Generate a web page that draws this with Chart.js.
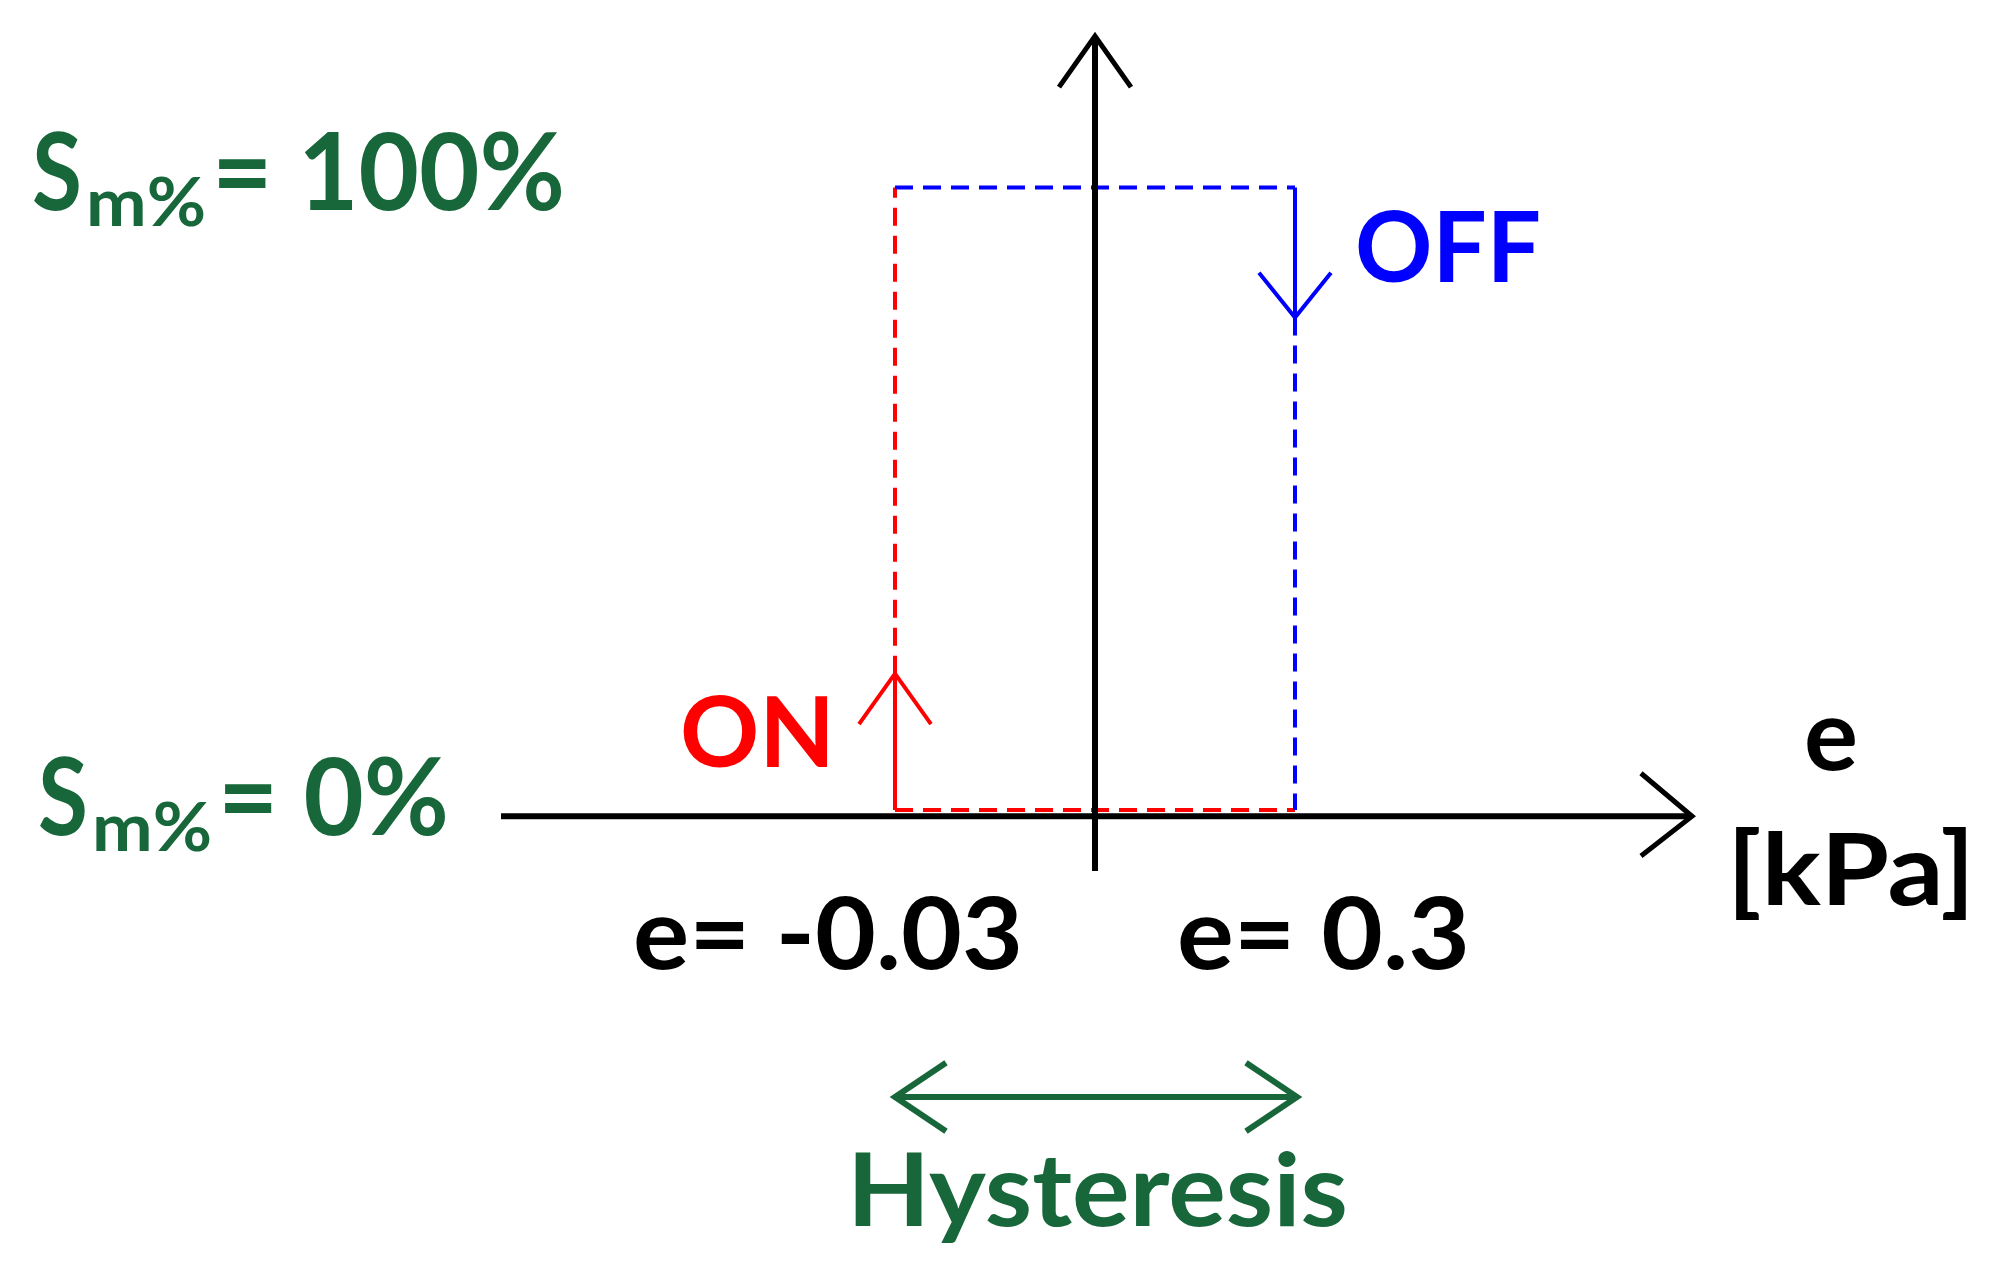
<!DOCTYPE html>
<html><head><meta charset="utf-8">
<script src="https://cdn.jsdelivr.net/npm/chart.js@4.4.1/dist/chart.umd.min.js"></script>
<style>html,body{margin:0;padding:0;background:#fff;overflow:hidden}#w{width:2003px;height:1272px}</style>
</head><body><div id="w"><canvas id="c"></canvas></div>
<script>
// Logical units: x = error e (thresholds at ±1 = ON / OFF points), y = output Sm% (0..100)
const onThreshold = -1, offThreshold = 1;
const outLow = 0, outHigh = 100;
const xAxisLine = [{x:-2.97,y:-1},{x:2.985,y:-1}];
const xAxisHead = [{x:2.73,y:5.9},{x:2.985,y:-1},{x:2.73,y:-7.4}];
const yAxisLine = [{x:0,y:-9.8},{x:0,y:124.3}];
const yAxisHead = [{x:-0.18,y:116.1},{x:0,y:124.3},{x:0.18,y:116.1}];
const offTop = [{x:onThreshold,y:outHigh},{x:offThreshold,y:outHigh}];
const offSolid = [{x:offThreshold,y:outHigh},{x:offThreshold,y:79.1}];
const offDashed = [{x:offThreshold,y:79.1},{x:offThreshold,y:outLow}];
const offHead = [{x:0.82,y:86.3},{x:offThreshold,y:79.1},{x:1.18,y:86.3}];
const onBottom = [{x:onThreshold,y:outLow},{x:offThreshold,y:outLow}];
const onSolid = [{x:onThreshold,y:outLow},{x:onThreshold,y:21.9}];
const onDashed = [{x:onThreshold,y:21.9},{x:onThreshold,y:outHigh}];
const onHead = [{x:-1.18,y:13.8},{x:onThreshold,y:21.9},{x:-0.82,y:13.8}];
const hystLine = [{x:onThreshold,y:-46.1},{x:1.01,y:-46.1}];
const hystHeadL = [{x:-0.745,y:-40.6},{x:onThreshold,y:-46.1},{x:-0.745,y:-51.6}];
const hystHeadR = [{x:0.755,y:-40.6},{x:1.01,y:-46.1},{x:0.755,y:-51.6}];

const GREEN='#17673a', RED='#ff0000', BLUE='#0000ff', BLACK='#000000';
function ds(data,color,w,dash){return {data,borderColor:color,borderWidth:w,borderDash:dash||[],pointRadius:0,fill:false,tension:0,borderCapStyle:'butt',borderJoinStyle:'miter'};}
const DASH=[18,10];

// texts: [parts], each part {t, x, base, size, w, color}
const labels = [
 [{t:'S',x:32,b:210,s:107,w:50,c:GREEN},{t:'m%',x:86,b:226,s:66,w:120,c:GREEN},{t:'= 100%',x:212,b:210,s:107,w:353,c:GREEN}],
 [{t:'S',x:38,b:835,s:107,w:50,c:GREEN},{t:'m%',x:92,b:851,s:66,w:120,c:GREEN},{t:'= 0%',x:218,b:835,s:107,w:231,c:GREEN}],
 [{t:'OFF',x:1355,b:282,s:98,w:186,c:BLUE}],
 [{t:'ON',x:680,b:767,s:98,w:155,c:RED}],
 [{t:'e',x:1804,b:770,s:100,w:54,c:BLACK}],
 [{t:'[kPa]',x:1727,b:905,s:100,w:248,c:BLACK}],
 [{t:'e= -0.03',x:633,b:969,s:100,w:390,c:BLACK}],
 [{t:'e= 0.3',x:1177,b:969,s:100,w:293,c:BLACK}],
 [{t:'Hysteresis',x:847,b:1226,s:102,w:501,c:GREEN}]
];
const textPlugin={id:'txt',afterDraw(ch){const g=ch.ctx;g.save();g.textBaseline='alphabetic';
 labels.forEach(L=>L.forEach(p=>{g.font='bold '+p.s+'px Lato';g.fillStyle=p.c;const m=g.measureText(p.t).width;
  g.save();g.translate(p.x,p.b);g.scale(p.w/m,1);g.fillText(p.t,0,0);g.restore();}));g.restore();}};

new Chart(document.getElementById('c'),{type:'line',
 data:{datasets:[
  ds(xAxisLine,BLACK,6),ds(xAxisHead,BLACK,5),ds(yAxisLine,BLACK,6),ds(yAxisHead,BLACK,5),
  ds(offTop,BLUE,4,DASH),ds(offSolid,BLUE,4),ds(offDashed,BLUE,4,DASH),ds(offHead,BLUE,4),
  ds(onBottom,RED,4,DASH),ds(onSolid,RED,4),ds(onDashed,RED,4,DASH),ds(onHead,RED,4),
  ds(hystLine,GREEN,6),ds(hystHeadL,GREEN,6),ds(hystHeadR,GREEN,6)]},
 options:{responsive:true,maintainAspectRatio:false,animation:false,devicePixelRatio:1,
  layout:{padding:0},
  plugins:{legend:{display:false},tooltip:{enabled:false}},
  scales:{x:{type:'linear',display:false,min:-5.475,max:4.54},
          y:{type:'linear',display:false,min:-74.2,max:130.1}}},
 plugins:[textPlugin]});
</script></body></html>
